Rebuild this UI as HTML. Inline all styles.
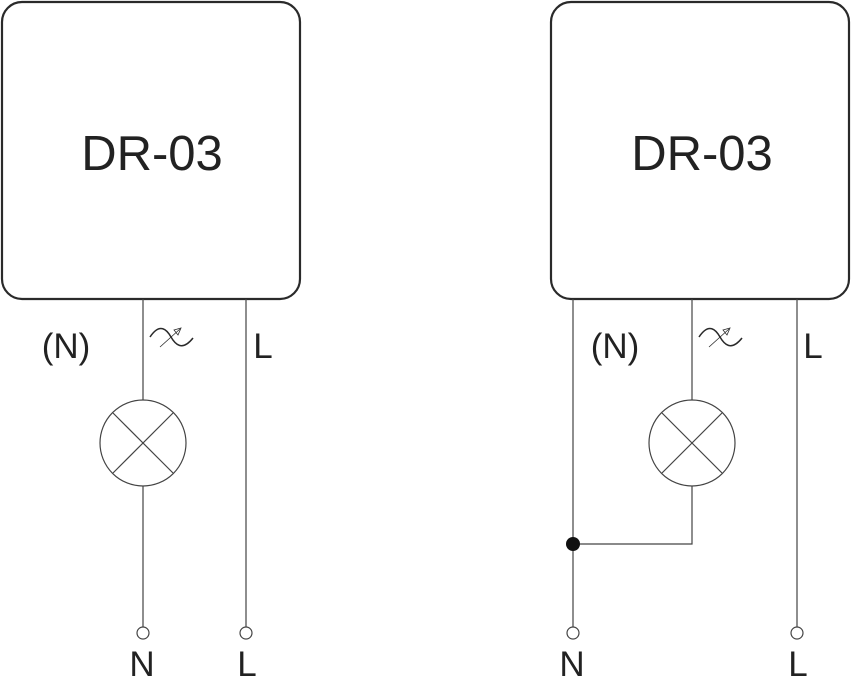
<!DOCTYPE html>
<html><head><style>body{margin:0;background:#fff}svg{display:block}</style></head><body>
<svg width="851" height="678" viewBox="0 0 851 678" xmlns="http://www.w3.org/2000/svg" font-family="Liberation Sans, sans-serif" fill="#222">
<g fill="none" stroke="#2a2a2a">
<rect x="2" y="2" width="298" height="297" rx="20" stroke-width="2.2"/>
<rect x="551" y="2" width="298" height="297" rx="20" stroke-width="2.2"/>
<g stroke-width="1.2" stroke="#444">
<line x1="143" y1="299" x2="143" y2="400"/><line x1="143" y1="486" x2="143" y2="627"/>
<line x1="246" y1="299" x2="246" y2="627"/>
<circle cx="143" cy="443" r="43"/><line x1="113" y1="413" x2="173" y2="473"/><line x1="173" y1="413" x2="113" y2="473"/>
<circle cx="143" cy="633" r="6"/><circle cx="246" cy="633" r="6"/>
<line x1="573" y1="299" x2="573" y2="627"/>
<line x1="692" y1="299" x2="692" y2="400"/><polyline points="692,486 692,544 573,544"/>
<line x1="797" y1="299" x2="797" y2="627"/>
<circle cx="692" cy="443" r="43"/><line x1="662" y1="413" x2="722" y2="473"/><line x1="722" y1="413" x2="662" y2="473"/>
<circle cx="573" cy="633" r="6"/><circle cx="797" cy="633" r="6"/>
</g>
<g id="s" stroke-width="1.5">
<path d="M150,337 C160,322 167,330 171,337 C175,344 182,352 193,338"/>
<line x1="160" y1="347" x2="180" y2="329" stroke-width="0.8"/>
<path d="M174,330 L181,328 L178,335 Z" stroke-width="0.8"/>
</g>
<use href="#s" x="549"/>
</g>
<circle cx="573" cy="544" r="7" fill="#111"/>
<g font-size="49" text-anchor="middle"><text x="152" y="170">DR-03</text><text x="702" y="170">DR-03</text></g>
<g font-size="35" text-anchor="middle">
<text x="66" y="358">(N)</text><text x="263" y="358">L</text>
<text x="615" y="358">(N)</text><text x="813" y="358">L</text>
<text x="142" y="676">N</text><text x="247" y="676">L</text>
<text x="572" y="676">N</text><text x="798" y="676">L</text>
</g>
</svg>
</body></html>
